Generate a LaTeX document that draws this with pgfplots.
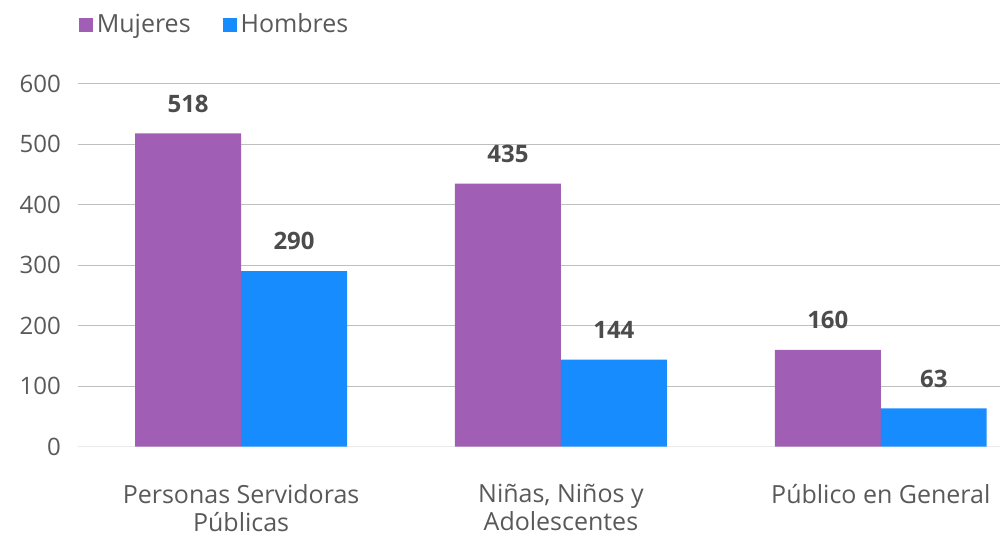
\documentclass[border=0pt]{standalone}
\usepackage{pgfplots}
\pgfplotsset{compat=1.18}
\usepackage{fontspec}
\setmainfont{Open Sans}
\definecolor{mujer}{RGB}{160,94,181}
\definecolor{hombre}{RGB}{22,140,255}
\definecolor{txt}{RGB}{89,89,89}
\definecolor{grid}{RGB}{235,235,235}

\begin{document}
\begin{tikzpicture}
\begin{axis}[
    scale only axis,
    width=461.5pt, height=181.5pt,
    ybar=0pt, bar width=53pt,
    xmin=-0.51, xmax=2.374,
    ymin=0, ymax=600,
    ytick={0,100,...,600},
    xtick={0,1,2},
    xticklabels={Personas Servidoras\\Públicas, {Niñas, Niños y\\Adolescentes}, Público en General},
    xticklabel style={align=center, font=\fontsize{12.5}{14}\selectfont, text=txt, yshift=-15.5pt},
    yticklabel style={font=\fontsize{12}{13}\selectfont, text=txt, xshift=-5pt},
    /pgf/number format/assume math mode=true,
    ymajorgrids, xmajorgrids=false, grid style={grid, line width=0.6pt},
    axis line style={draw=none},
    axis x line*=bottom, axis y line*=left,
    x axis line style={draw=grid, line width=0.6pt},
    major tick length=0pt, tick style={draw=none},
    clip=false,
    nodes near coords,
    every node near coord/.append style={font=\fontsize{12}{13}\selectfont\bfseries, text=txt!85!black, yshift=7pt},
    legend style={at={(rel axis cs:-0.006,1.163)}, anchor=west, draw=none, fill=none,
        font=\fontsize{12.5}{13}\selectfont, text=txt, legend columns=2,
        /tikz/every even column/.append style={column sep=14pt}},
    legend image code/.code={\fill[#1] (0pt,-3.5pt) rectangle (7pt,3.5pt);},
]
\addplot[fill=mujer, draw=none] coordinates {(0,518) (1,435) (2,160)};
\addplot[fill=hombre, draw=none] coordinates {(0,290) (1,144) (2,63)};
\legend{Mujeres, Hombres}
\path (rel axis cs:-0.0845,1.231) rectangle (rel axis cs:1.0,-0.242);
\end{axis}
\end{tikzpicture}
\end{document}
